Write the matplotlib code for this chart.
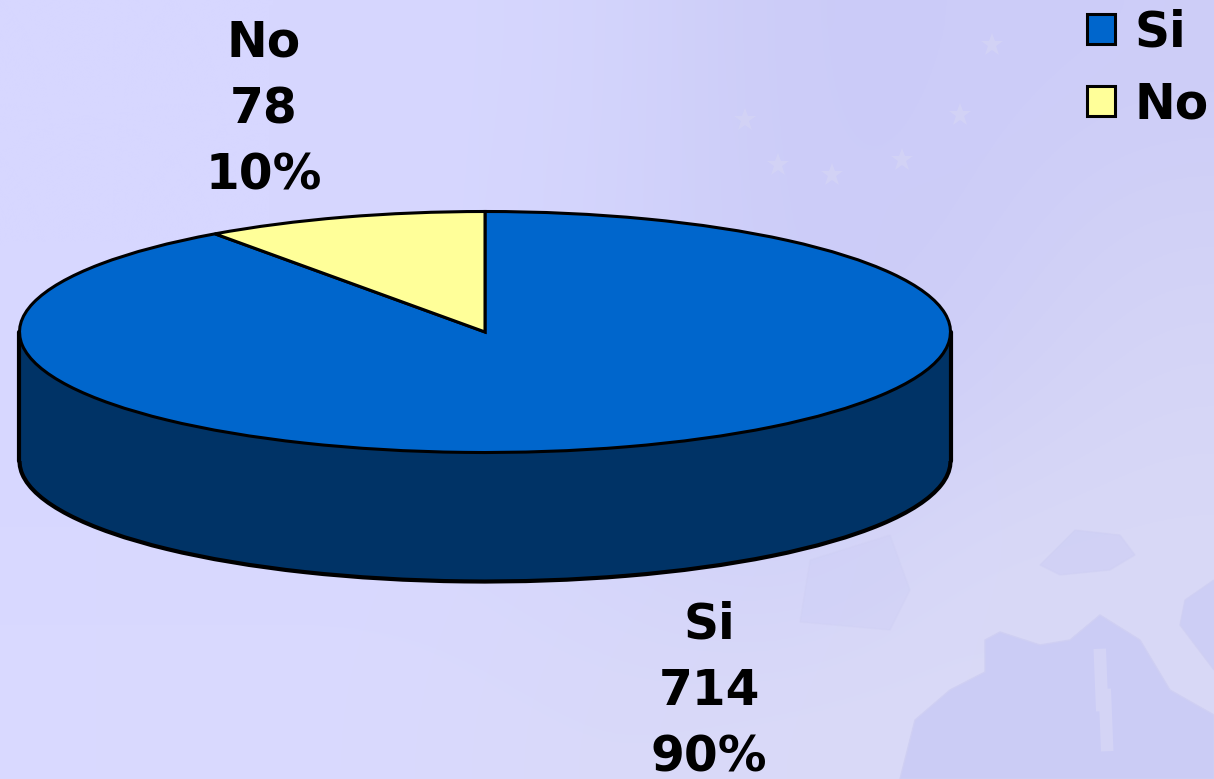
import numpy as np
import matplotlib.pyplot as plt
from matplotlib.patches import Polygon, Rectangle

# datos
categorias = ["Si", "No"]
valores = [714, 78]
porcentajes = [90, 10]
color_cara = ["#0066CC", "#FFFF99"]
color_lado = "#003366"

# tamano en pixeles
W, H = 1214, 779
cx, cy = 485, 332
rx, ry = 465.5, 120.5
prof = 129

plt.rcParams['font.family'] = ['DejaVu Sans']
fig = plt.figure(figsize=(W / 100, H / 100), dpi=100)

# fondo: degradado suave con el mapa de Europa muy tenue
fondo = fig.add_axes([0, 0, 1, 1])
grid = np.array([
    ["#D7D7FF", "#D7D7FF", "#D7D7FF", "#D4D5FC", "#CBCBF7", "#CCCCF9", "#CDCDF8"],
    ["#D7D7FF", "#D7D7FF", "#D7D7FF", "#D3D4FC", "#CCCCF8", "#CCCCF8", "#D2D2F6"],
    ["#D7D7FF", "#D7D7FF", "#D7D7FF", "#D3D4FC", "#CCCCF9", "#CFCFF7", "#D6D6F6"],
    ["#D8D8FF", "#D8D8FF", "#D8D8FE", "#D5D6FB", "#D0D1F9", "#D9D9F7", "#D9D9F7"],
    ["#DADAFF", "#DADAFF", "#DADAFD", "#D9D9F9", "#DADAF8", "#DADAF7", "#D8D8F6"],
])
rgb = np.array([[[int(c[i:i + 2], 16) / 255 for i in (1, 3, 5)] for c in fila] for fila in grid])
fondo.imshow(rgb, extent=[0, W, H, 0], aspect='auto', interpolation='bicubic', zorder=0)

mar = [(985, 640), (1000, 632), (1040, 645), (1070, 640), (1100, 615), (1140, 640), (1170, 690),
       (1214, 715), (1214, 779), (900, 779), (915, 720), (950, 690), (985, 672)]
lago = [(1040, 565), (1075, 530), (1120, 535), (1135, 555), (1110, 570), (1060, 575)]
atlantico = [(800, 622), (810, 560), (890, 535), (910, 590), (890, 630)]
norte = [(1214, 580), (1185, 600), (1180, 625), (1214, 670)]
for p, a in [(mar, 1), (lago, 0.5), (atlantico, 0.3), (norte, 0.8)]:
    fondo.add_patch(Polygon(p, closed=True, fc="#CBCCF5", ec="#CFCFF3", lw=1, alpha=a, zorder=1))
for ix, iy in [(1100, 680), (1105, 720)]:
    fondo.plot([ix, ix + 2], [iy - 25, iy + 25], color="#D4D4F5", lw=9, zorder=2)
for sx, sy in [(992, 45), (960, 115), (902, 160), (832, 175), (778, 165), (745, 120)]:
    fondo.plot(sx, sy, marker='*', ms=17, color="#D5D5F5", mew=0, alpha=0.7, zorder=2)
fondo.set_xlim(0, W)
fondo.set_ylim(H, 0)
fondo.axis('off')

# grafico de torta en 3D: una torta oscura abajo, el costado y la cara de arriba
ax = fig.add_axes([0, 0, 1, 1], facecolor='none')
prof_u = prof / ry
kw = dict(startangle=90, counterclock=False)
ax.pie(valores, colors=[color_lado, color_lado], center=(0, -prof_u),
       wedgeprops=dict(edgecolor="black", linewidth=3), **kw)
ax.add_patch(Rectangle((-1, -prof_u), 2, prof_u, fc=color_lado, ec='none'))
# tapa el centro de la torta de abajo
ax.add_patch(Rectangle((-0.5, -prof_u - 0.15), 1, 0.15, fc=color_lado, ec='none'))
ax.plot([-1, -1], [-prof_u, 0], color="black", lw=3, solid_capstyle='round')
ax.plot([1, 1], [-prof_u, 0], color="black", lw=3, solid_capstyle='round')
cuñas, _ = ax.pie(valores, colors=color_cara,
                  wedgeprops=dict(edgecolor="black", linewidth=2.2), **kw)
ax.set_aspect('auto')
ax.set_xlim((0 - cx) / rx, (W - cx) / rx)
ax.set_ylim((cy - H) / ry, cy / ry)

# etiquetas
pos_etiquetas = [(709, 691), (264, 109)]
for nom, val, pct, (px, py) in zip(categorias, valores, porcentajes, pos_etiquetas):
    fondo.text(px, py, f"{nom}\n{val}\n{pct}%", ha='center', va='center',
               fontsize=35, fontweight='bold', color='black', linespacing=1.48, zorder=5)

leg = ax.legend(cuñas, categorias, loc='upper left', bbox_to_anchor=(1058 / W, 1 + 21 / H),
                bbox_transform=fig.transFigure, frameon=False, borderpad=0.1,
                handlelength=0.58, handleheight=0.58, handletextpad=0.4, labelspacing=0.5,
                prop=dict(size=35, weight='bold'))
for h in leg.legend_handles:
    h.set_linewidth(2.2)

plt.savefig("out.png", dpi=100)
